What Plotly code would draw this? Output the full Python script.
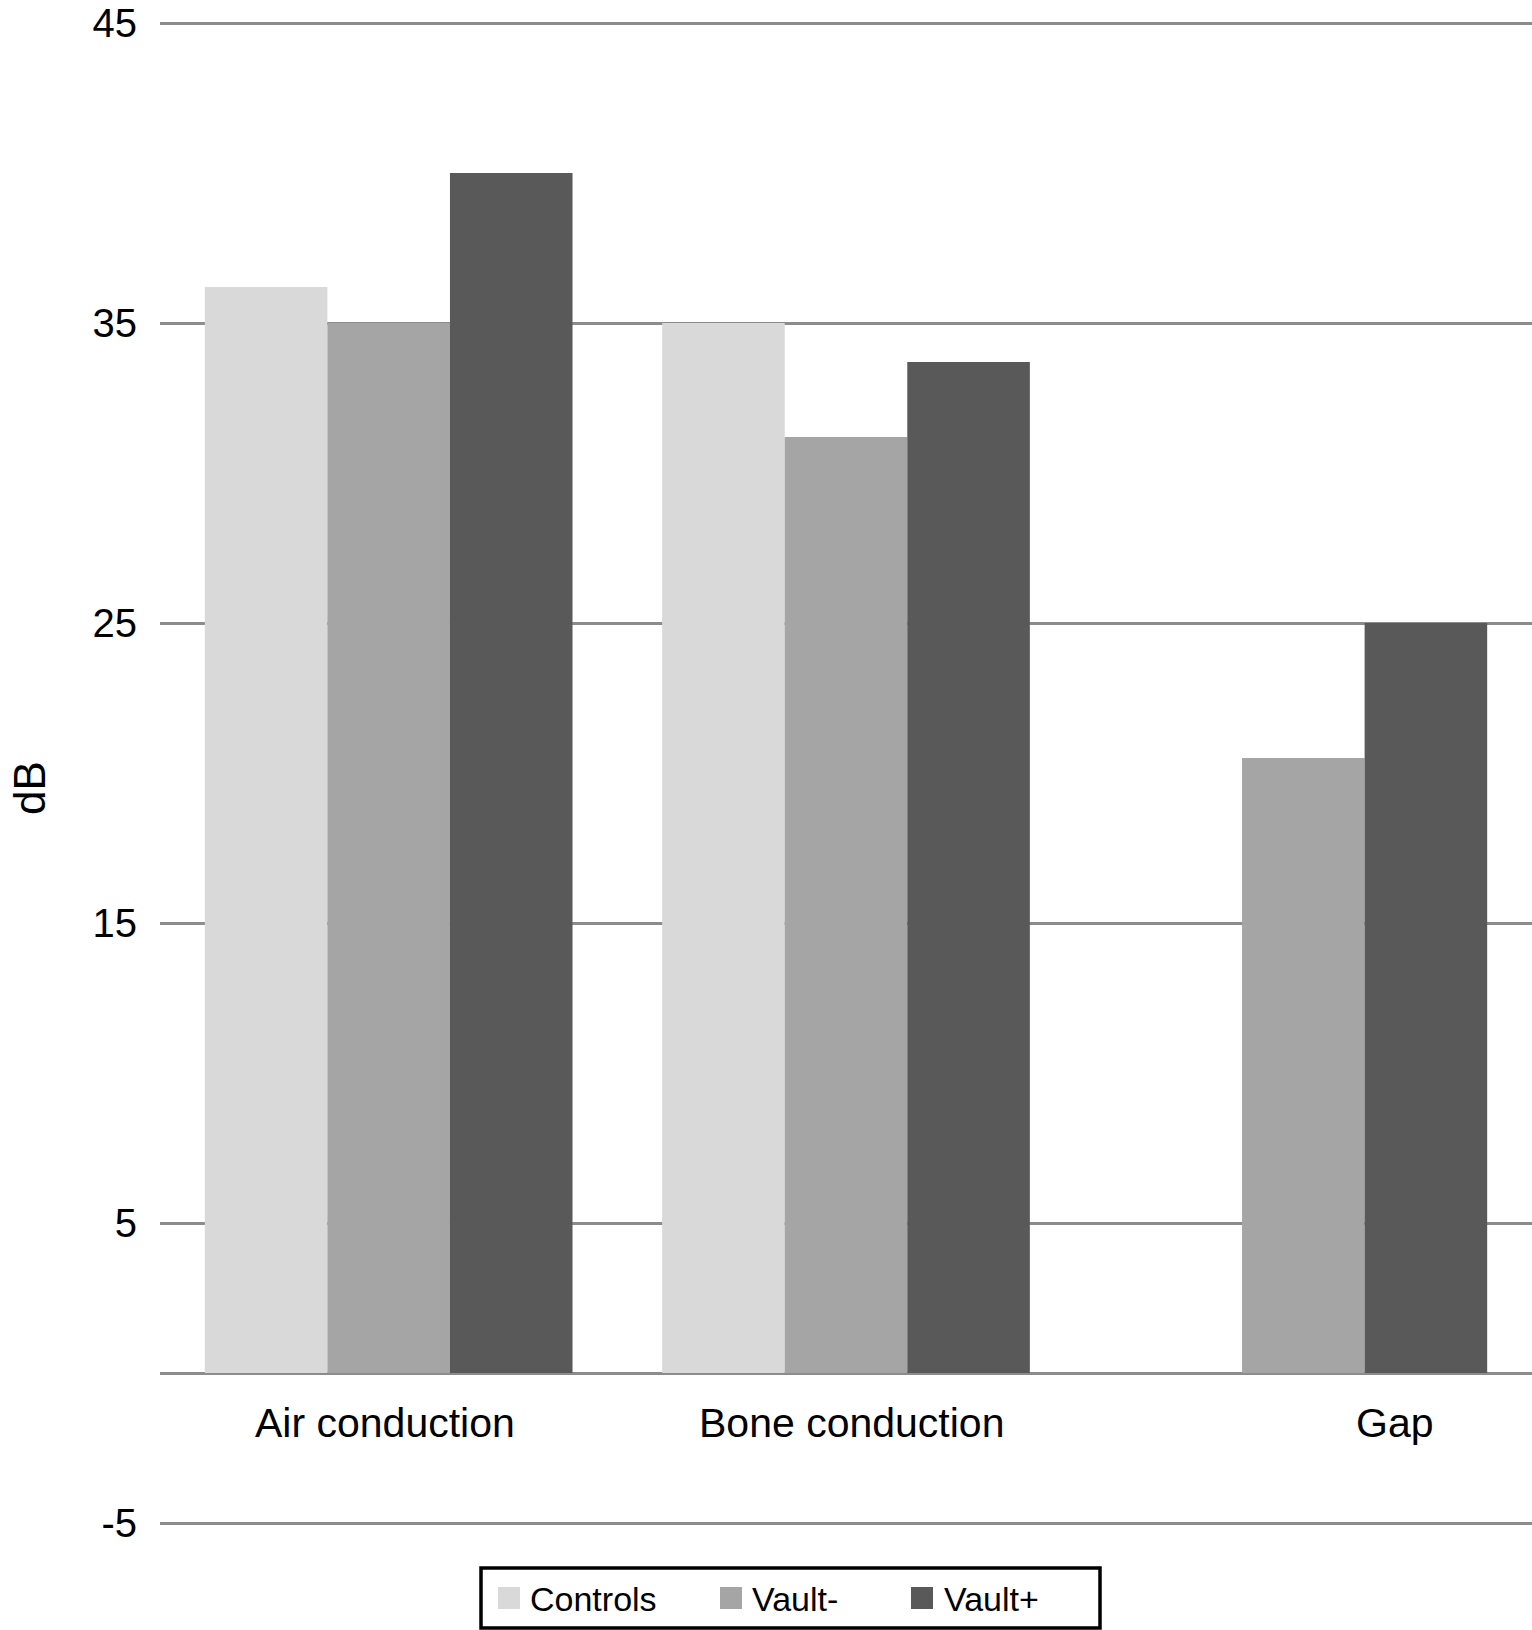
import plotly.graph_objects as go

categories = ["Air conduction", "Bone conduction", "Gap"]
series_names = ["Controls", "Vault-", "Vault+"]
controls = [36.2, 35.0, None]
vault_minus = [35.0, 31.2, 20.5]
vault_plus = [40.0, 33.7, 25.0]
series_colors = ["#d9d9d9", "#a5a5a5", "#595959"]
y_tick_values = [45, 35, 25, 15, 5, -5]
y_tick_labels = ["45", "35", "25", "15", "5", "-5"]
y_title = "dB"

W, H = 1532, 1630
ML, MR, MT = 160, 0, 20
PH = 1506
MB = H - MT - PH
PW = W - ML - MR
FONT = "Liberation Sans, Arial, Helvetica, sans-serif"


def px_x(x):
    """page pixel x -> paper coordinate"""
    return (x - ML) / PW


def px_y(y):
    """page pixel y -> paper coordinate"""
    return (H - MB - y) / PH


fig = go.Figure()
for name, vals, col in zip(series_names, [controls, vault_minus, vault_plus], series_colors):
    fig.add_trace(go.Bar(x=categories, y=vals, name=name, marker_color=col,
                         marker_line_width=0, showlegend=False))

annotations = []
# category labels placed inside plot area (as in the reference)
label_offsets = [-0.007, 0.013, 0.2]
for i, (cat, off) in enumerate(zip(categories, label_offsets)):
    annotations.append(dict(x=i + off, y=-1.65, xref="x", yref="y", text=cat,
                            showarrow=False, xanchor="center", yanchor="middle",
                            font=dict(family=FONT, size=41, color="black")))

# y axis title
annotations.append(dict(x=px_x(29), y=px_y(788), xref="paper", yref="paper", text=y_title,
                        textangle=-90, showarrow=False, xanchor="center", yanchor="middle",
                        font=dict(family=FONT, size=44, color="black")))

shapes = []
# legend box
shapes.append(dict(type="rect", xref="paper", yref="paper",
                   x0=px_x(481), x1=px_x(1100), y0=px_y(1568), y1=px_y(1628),
                   line=dict(color="black", width=3.5), fillcolor="white", layer="above"))
legend_square_x = [498, 720, 911]
legend_text_x = [528, 750, 942]
for name, col, sx, tx in zip(series_names, series_colors, legend_square_x, legend_text_x):
    shapes.append(dict(type="rect", xref="paper", yref="paper",
                       x0=px_x(sx), x1=px_x(sx + 22), y0=px_y(1587), y1=px_y(1609),
                       line=dict(width=0), fillcolor=col, layer="above"))
    annotations.append(dict(x=px_x(tx), y=px_y(1599), xref="paper", yref="paper", text=name,
                            showarrow=False, xanchor="left", yanchor="middle",
                            font=dict(family=FONT, size=34, color="black")))

fig.update_layout(
    width=W, height=H,
    margin=dict(l=ML, r=MR, t=MT, b=MB, pad=0),
    paper_bgcolor="white", plot_bgcolor="white",
    barmode="group", bargap=0.196, bargroupgap=0,
    showlegend=False,
    font=dict(family=FONT, color="black"),
    annotations=annotations, shapes=shapes,
    xaxis=dict(showticklabels=False, showgrid=False, zeroline=False, showline=False,
               ticks=""),
    yaxis=dict(range=[-5.1, 45.1], tickvals=y_tick_values, ticktext=y_tick_labels,
               tickfont=dict(family=FONT, size=40, color="black"),
               showgrid=True, gridcolor="#8c8c8c", gridwidth=3,
               zeroline=True, zerolinecolor="#8c8c8c", zerolinewidth=3,
               showline=False, ticks="", ticklabelstandoff=22,
               ticklabeloverflow="allow"),
)

fig.write_html("out.html",
               config={"displayModeBar": False},
               post_script="document.body.style.margin='0';document.body.style.overflow='hidden';")
